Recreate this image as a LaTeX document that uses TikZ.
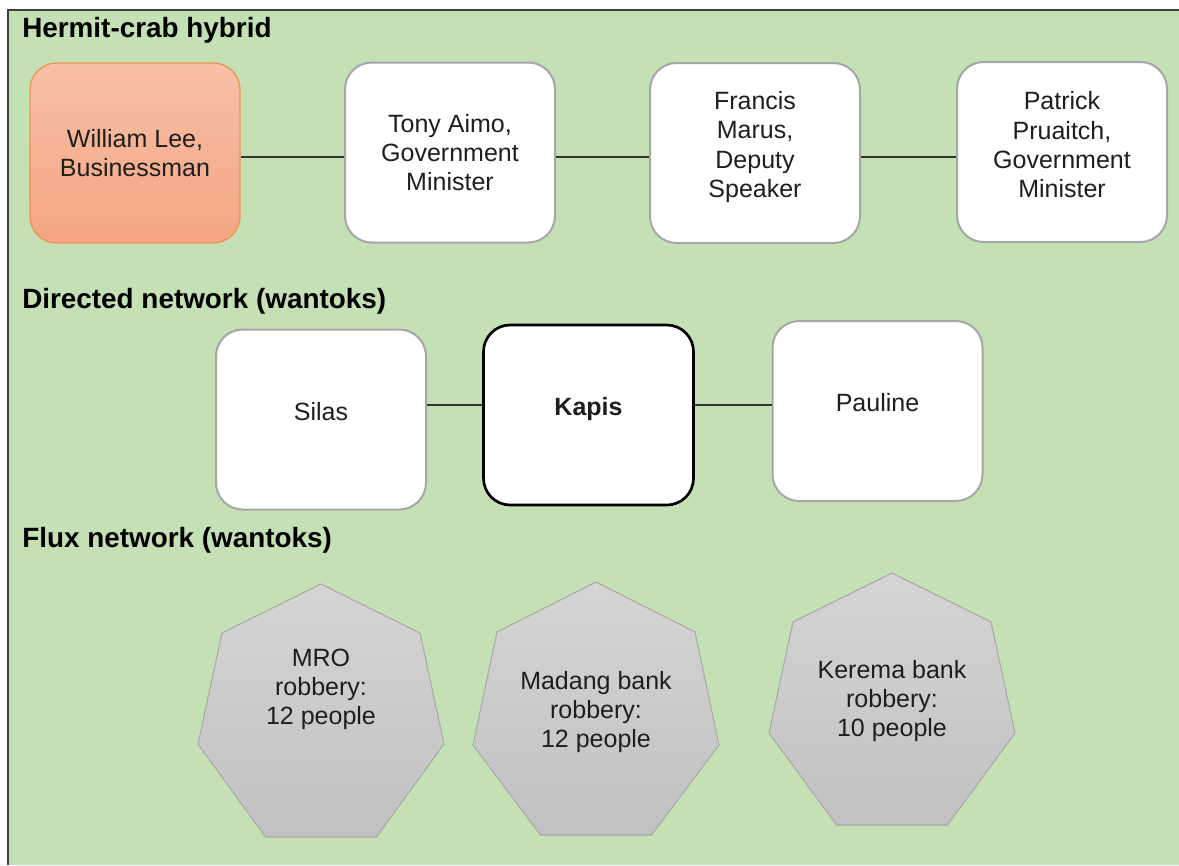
\documentclass[tikz,border=0pt]{standalone}
\usepackage{fontspec}
\setmainfont{Liberation Sans}
\definecolor{bggreen}{HTML}{C5E0B4}
\definecolor{framegray}{HTML}{404040}
\definecolor{boxgray}{HTML}{A6A6A6}
\definecolor{linkgray}{HTML}{333333}
\definecolor{txtblack}{HTML}{1E1E1E}
\definecolor{salmontop}{HTML}{F7C0A7}
\definecolor{salmonbot}{HTML}{F4A582}
\definecolor{salmonline}{HTML}{EA9458}
\definecolor{heptop}{HTML}{D5D5D5}
\definecolor{heptbot}{HTML}{C1C1C1}
\definecolor{heptline}{HTML}{A9A9A9}
\newcommand\nodefont{\fontsize{18.75}{22}\selectfont}
\newcommand\titlefont{\fontsize{20.9}{24}\selectfont\bfseries}
\begin{document}
\begin{tikzpicture}[x=0.75pt,y=-0.75pt,
  box/.style={rectangle, rounded corners=20pt, minimum width=157.5pt, minimum height=135pt,
    draw=boxgray, line width=1.5pt, fill=white, inner sep=0pt},
  keybox/.style={box, draw=black, line width=2pt},
  salmonbox/.style={box, draw=salmonline, line width=1pt, top color=salmontop, bottom color=salmonbot},
  txt/.style={font=\nodefont, align=center, inner sep=0pt, text=txtblack},
  title/.style={font=\titlefont, anchor=base west, inner sep=0pt, text=black},
  link/.style={draw=linkgray, line width=1.1pt},
  hept/.style={draw=heptline, line width=0.8pt, top color=heptop, bottom color=heptbot},
  frame/.style={draw=framegray, line width=1.5pt}]
\useasboundingbox (0,0) rectangle (1179,865);
\fill[white] (0,0) rectangle (1179,865);
\fill[bggreen] (8,10) rectangle (1179,865);
\draw[frame] (8,865) -- (8,10) -- (1179,10);

% titles
\node[title] (t1) at (22,37) {Hermit-crab hybrid};
\node[title] (t2) at (22,308) {Directed network (wantoks)};
\node[title] (t3) at (22,547) {Flux network (wantoks)};

% row 1
\node[salmonbox] (william) at (135,153) {};
\node[box] (tony) at (450,152.5) {};
\node[box] (francis) at (755,153) {};
\node[box] (patrick) at (1062,152) {};
\node[txt] (william-t) at (135,153) {William Lee,\\Businessman};
\node[txt] (tony-t) at (450,152.5) {Tony Aimo,\\Government\\Minister};
\node[txt] (francis-t) at (755,147) {Francis\\Marus,\\Deputy\\Speaker};
\node[txt] (patrick-t) at (1062,145) {Patrick\\Pruaitch,\\Government\\Minister};
\coordinate (r1) at (0,157);
\draw[link] (william.east |- r1) -- (tony.west |- r1);
\draw[link] (tony.east |- r1) -- (francis.west |- r1);
\draw[link] (francis.east |- r1) -- (patrick.west |- r1);

% row 2
\node[box] (silas) at (321,419.5) {};
\node[keybox] (kapis) at (588.5,415) {};
\node[box] (pauline) at (877.5,411) {};
\node[txt] (silas-t) at (321,411.5) {Silas};
\node[txt, font=\nodefont\bfseries] (kapis-t) at (588.5,409.5) {Kapis};
\node[txt] (pauline-t) at (877.5,403) {Pauline};
\coordinate (r2) at (0,405);
\draw[link] (silas.east |- r2) -- (kapis.west |- r2);
\draw[link] (kapis.east |- r2) -- (pauline.west |- r2);

% row 3: heptagons
\draw[hept, shift={(321,584)}] (0,0) -- (99,49) -- (123,160) -- (55.5,253) -- (-55.5,253) -- (-123,160) -- (-99,49) -- cycle;
\draw[hept, shift={(596,582)}] (0,0) -- (99,50) -- (123,163) -- (55.5,253) -- (-55.5,253) -- (-123,163) -- (-99,50) -- cycle;
\draw[hept, shift={(892,573)}] (0,0) -- (99,49) -- (123,160) -- (55.5,252) -- (-55.5,252) -- (-123,160) -- (-99,49) -- cycle;
\node[txt] (mro) at (321,689.5) {MRO\\robbery:\\12 people};
\node[txt] (madang) at (596,712) {Madang bank\\robbery:\\12 people};
\node[txt] (kerema) at (892,701) {Kerema bank\\robbery:\\10 people};
\end{tikzpicture}
\end{document}
